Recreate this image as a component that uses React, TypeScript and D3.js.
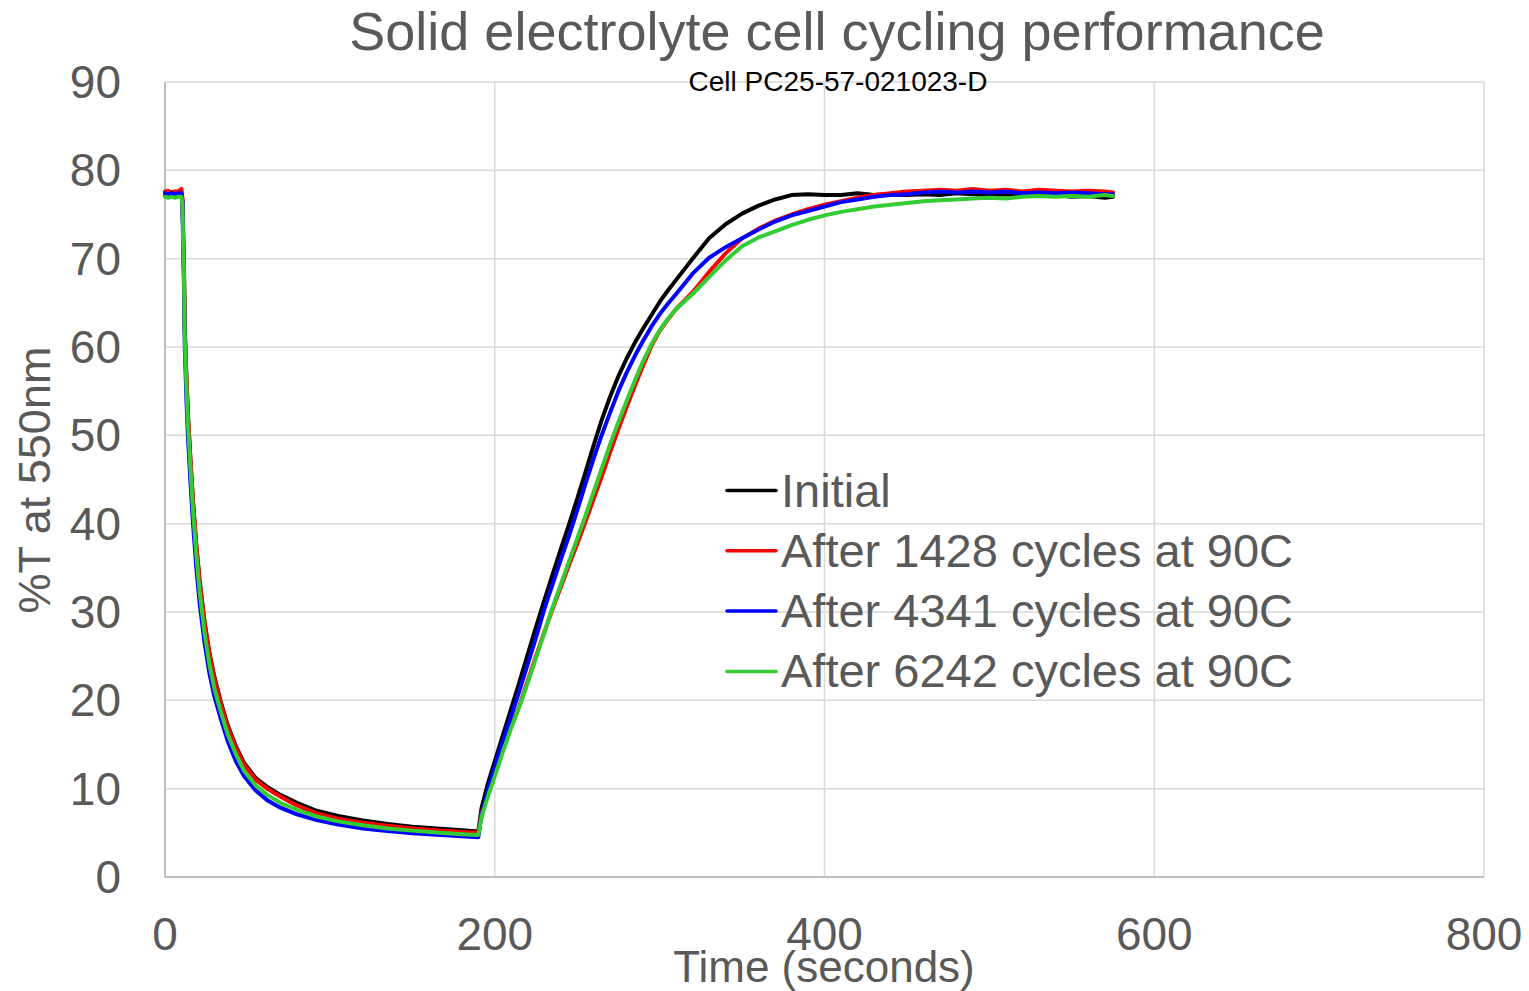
import React from 'react';
import * as d3 from 'd3';

// sample times (seconds) shared by all four runs
const times = [
  0, 2, 4, 6, 8, 10, 10.6, 11, 11.5, 12, 13, 14, 15.5, 17, 19, 21, 24, 27, 30, 34,
  38, 43, 48, 55, 62, 70, 80, 92, 105, 120, 135, 150, 165, 180, 190, 192, 196, 200, 205, 210,
  215, 220, 225, 230, 235, 240, 245, 250, 255, 260, 265, 270, 275, 280, 285, 290, 295, 300, 305, 310,
  320, 330, 340, 350, 360, 370, 380, 390, 400, 410, 420, 430, 440, 450, 460, 470, 480, 490, 500, 510,
  520, 530, 540, 550, 560, 570, 575,
];

// %T at 550nm
const initial = [
  77.1, 77.2, 77.0, 77.2, 77.1, 77.3, 76.5, 73, 69, 62, 56.5, 52, 47, 42.5, 37.5, 33.5, 28.8, 25.3, 22.6, 19.7,
  17.2, 14.8, 12.9, 11.2, 10.2, 9.3, 8.4, 7.5, 6.9, 6.4, 6.0, 5.7, 5.5, 5.3, 5.15, 7.8, 10.7, 13.1, 16.1, 19.1,
  22.1, 25.2, 28.3, 31.3, 34.2, 37.1, 39.9, 42.8, 45.8, 48.9, 51.8, 54.4, 56.7, 58.7, 60.5, 62.1, 63.6, 65.1, 66.4, 67.6,
  70.0, 72.3, 73.9, 75.1, 76.0, 76.7, 77.2, 77.3, 77.2, 77.2, 77.4, 77.2, 77.3, 77.2, 77.3, 77.2, 77.4, 77.3, 77.2, 77.3,
  77.2, 77.1, 77.2, 77.0, 77.1, 76.9, 77.0,
];
const after1428 = [
  77.6, 77.7, 77.5, 77.6, 77.6, 77.9, 76.8, 73, 69, 62, 56.5, 52, 47, 42.5, 37.5, 33.5, 28.8, 25.2, 22.4, 19.5,
  17.0, 14.6, 12.7, 11.0, 10.0, 9.1, 8.1, 7.2, 6.6, 6.15, 5.8, 5.5, 5.3, 5.1, 5.0, 7.2, 9.6, 11.7, 14.4, 17.0,
  19.4, 22.2, 25.0, 27.7, 30.3, 32.8, 35.3, 37.7, 40.2, 42.8, 45.4, 48.1, 50.7, 53.2, 55.6, 57.9, 60.1, 61.8, 63.1, 64.3,
  66.2, 68.5, 70.6, 72.3, 73.4, 74.3, 75.0, 75.6, 76.1, 76.5, 76.9, 77.2, 77.4, 77.6, 77.7, 77.8, 77.7, 77.9, 77.7, 77.8,
  77.6, 77.8, 77.7, 77.6, 77.7, 77.6, 77.5,
];
const after4341 = [
  77.4, 77.3, 77.4, 77.3, 77.4, 77.4, 76.3, 71, 67, 60, 54, 49.5, 44.5, 40, 35, 31, 26.5, 23.0, 20.4, 17.8,
  15.4, 13.1, 11.4, 9.8, 8.7, 7.85, 7.1, 6.45, 5.95, 5.5, 5.2, 4.95, 4.78, 4.6, 4.5, 7.0, 10.0, 12.5, 15.4, 18.2,
  21.1, 24.1, 27.1, 30.3, 33.1, 35.9, 38.6, 41.5, 44.5, 47.4, 50.1, 52.6, 55.0, 57.1, 59.0, 60.7, 62.3, 63.7, 64.9, 66.0,
  68.3, 70.1, 71.3, 72.3, 73.3, 74.2, 74.9, 75.4, 75.9, 76.4, 76.7, 77.0, 77.2, 77.3, 77.5, 77.6, 77.5, 77.6, 77.5, 77.6,
  77.4, 77.5, 77.4, 77.5, 77.4, 77.3, 77.3,
];
const after6242 = [
  77.0, 76.9, 77.0, 76.9, 77.0, 77.0, 76.0, 72, 68, 61, 55.5, 51, 46, 41.5, 36.5, 32.3, 27.6, 24.0, 21.3, 18.6,
  16.2, 13.9, 12.0, 10.35, 9.3, 8.4, 7.6, 6.85, 6.3, 5.85, 5.5, 5.25, 5.05, 4.85, 4.75, 6.8, 9.2, 11.4, 14.2, 16.9,
  19.3, 22.0, 24.8, 27.6, 30.5, 33.1, 35.7, 38.3, 40.9, 43.6, 46.3, 49.0, 51.5, 53.9, 56.2, 58.4, 60.3, 61.9, 63.2, 64.3,
  66.0, 67.9, 69.8, 71.4, 72.4, 73.1, 73.8, 74.4, 74.9, 75.3, 75.6, 75.9, 76.1, 76.3, 76.5, 76.6, 76.7, 76.8, 76.9, 76.8,
  77.0, 77.1, 77.0, 77.1, 77.0, 77.2, 77.1,
];

const seriesNames = ['Initial', 'After 1428 cycles at 90C', 'After 4341 cycles at 90C', 'After 6242 cycles at 90C'];
const seriesColors = ['#000000', '#ff0000', '#0000ff', '#33cc33'];
const seriesValues = [initial, after1428, after4341, after6242];

const xTicks = [0, 200, 400, 600, 800];
const yTicks = [0, 10, 20, 30, 40, 50, 60, 70, 80, 90];

const font = '"Liberation Sans", Arial, sans-serif';
const gray = '#595959';

export default function App() {
  const width = 1529;
  const height = 991;
  const left = 165, right = 1484, top = 82, bottom = 877;

  const x = d3.scaleLinear().domain([0, 800]).range([left, right]);
  const y = d3.scaleLinear().domain([0, 90]).range([bottom, top]);

  const line = d3.line<number>()
    .x((_, i) => x(times[i]))
    .y(d => y(d));

  return (
    <svg width={width} height={height} style={{ position: 'absolute', left: 0, top: 0, background: '#fff' }}>
      {/* grid */}
      {yTicks.filter(t => t > 0).map(t => (
        <line key={'gy' + t} x1={left} x2={right} y1={y(t)} y2={y(t)} stroke="#d9d9d9" strokeWidth={1.5} />
      ))}
      {xTicks.filter(t => t > 0).map(t => (
        <line key={'gx' + t} x1={x(t)} x2={x(t)} y1={top} y2={bottom} stroke="#d9d9d9" strokeWidth={1.5} />
      ))}
      <line x1={left} x2={left} y1={top} y2={bottom} stroke="#bfbfbf" strokeWidth={2} />
      <line x1={left} x2={right} y1={bottom} y2={bottom} stroke="#bfbfbf" strokeWidth={2} />

      {/* tick labels */}
      {yTicks.map(t => (
        <text key={'ty' + t} x={121} y={y(t) + 16} textAnchor="end" fontFamily={font} fontSize={46} fill={gray}>{t}</text>
      ))}
      {xTicks.map(t => (
        <text key={'tx' + t} x={x(t)} y={950} textAnchor="middle" fontFamily={font} fontSize={46} fill={gray}>{t}</text>
      ))}

      {/* series */}
      {seriesValues.map((vals, i) => (
        <path key={'s' + i} d={line(vals) || ''} fill="none" stroke={seriesColors[i]} strokeWidth={4}
          strokeLinejoin="round" strokeLinecap="round" />
      ))}

      {/* legend */}
      {seriesNames.map((name, i) => {
        const ly = 490.5 + i * 60.3;
        return (
          <g key={'l' + i}>
            <line x1={727} x2={776} y1={ly} y2={ly} stroke={seriesColors[i]} strokeWidth={3.5} strokeLinecap="round" />
            <text x={781} y={ly + 16} fontFamily={font} fontSize={47} fill={gray}>{name}</text>
          </g>
        );
      })}

      {/* titles */}
      <text x={837} y={50} textAnchor="middle" fontFamily={font} fontSize={54} fill={gray}>
        Solid electrolyte cell cycling performance
      </text>
      <text x={838} y={91} textAnchor="middle" fontFamily={font} fontSize={28} fill="#000">
        Cell PC25-57-021023-D
      </text>
      <text x={824} y={982} textAnchor="middle" fontFamily={font} fontSize={44} fill={gray}>
        Time (seconds)
      </text>
      <text transform="translate(50,480) rotate(-90)" textAnchor="middle" fontFamily={font} fontSize={45} fill={gray}>
        %T at 550nm
      </text>
    </svg>
  );
}
